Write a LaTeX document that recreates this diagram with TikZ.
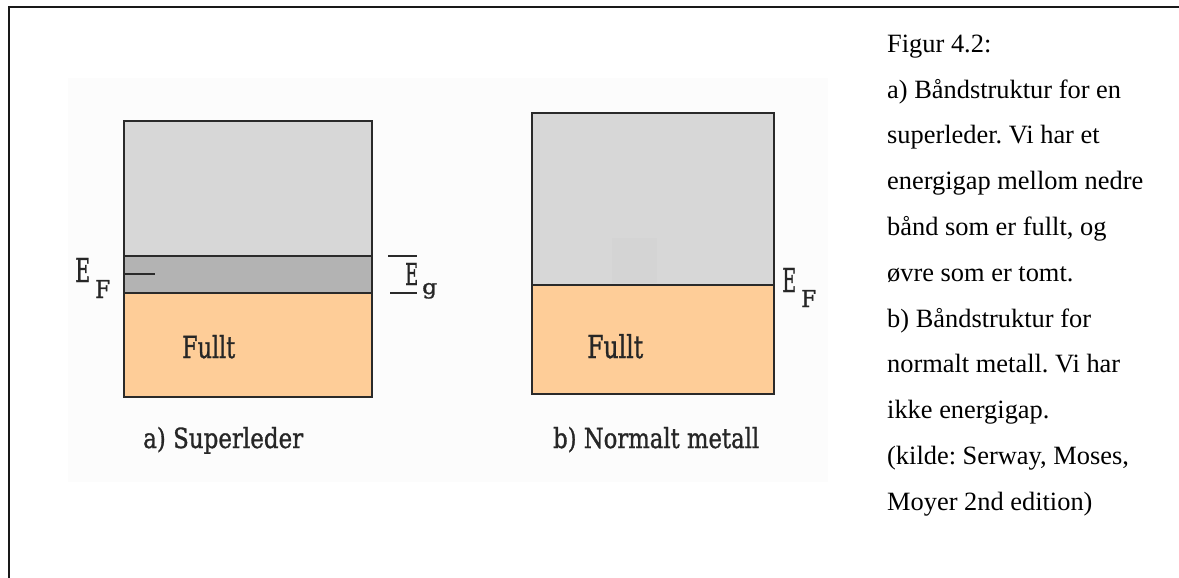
\documentclass[tikz,border=0pt]{standalone}
\usepackage{fontspec}
\setmainfont{Liberation Serif}
\newfontfamily\labfont[FakeBold=1.2]{DejaVu Serif}
\definecolor{topgray}{HTML}{D7D7D7}
\definecolor{gapgray}{HTML}{B3B3B3}
\definecolor{peach}{HTML}{FECD98}
\definecolor{bandline}{HTML}{2A2A2A}
\definecolor{paper}{HTML}{FCFCFC}
\definecolor{smudge}{HTML}{D4D4D4}
\tikzset{
  band/.style={draw=bandline, line width=1.8pt},
  lab/.style={anchor=base west, inner sep=0pt, text=black!85, font=\labfont},
  captxt/.style={anchor=base west, inner sep=0pt, font=\fontsize{26.4}{30}\selectfont},
  gapmark/.style={draw=bandline, line width=1.6pt}
}
\frenchspacing
\begin{document}
\begin{tikzpicture}[x=1pt,y=-1pt]
\useasboundingbox (0,0) rectangle (1179,578);
\fill[white] (0,0) rectangle (1179,578);
\fill[paper] (68,78) rectangle (828,482);
% frame
\draw[line width=2pt, draw=black!90] (9,578) -- (9,7) -- (1179,7);

% ---- a) superleder
\filldraw[band, fill=topgray] (124,121) rectangle (372,256);
\filldraw[band, fill=gapgray] (124,256) rectangle (372,293);
\filldraw[band, fill=peach] (124,293) rectangle (372,397);
\coordinate (efa1) at (124,274);
\coordinate (efa2) at (155,274);
\draw[gapmark] (efa1) -- (efa2);
\node[lab] (efa) at (75,282) {\resizebox{15pt}{24pt}{E}\hspace{5pt}\raisebox{-16pt}{\resizebox{15pt}{18pt}{F}}};
\coordinate (gt1) at (388,256); \coordinate (gt2) at (417,256);
\coordinate (gb1) at (390,293); \coordinate (gb2) at (417,293);
\draw[gapmark] (gt1) -- (gt2);
\draw[gapmark] (gb1) -- (gb2);
\node[lab] (eg) at (405,285) {\resizebox{13pt}{22pt}{E}\hspace{4pt}\raisebox{-9pt}{\resizebox{15pt}{11pt}{g}}};
\node[lab] (fulla) at (182,358) {\resizebox{53pt}{23pt}{Fullt}};
\node[lab] (capa) at (143,448) {\resizebox{160pt}{21pt}{a) Superleder}};

% ---- b) normalt metall
\filldraw[band, fill=topgray] (532,113) rectangle (774,285);
\fill[smudge] (612,238) rectangle (657,283);
\filldraw[band, fill=peach] (532,285) rectangle (774,394);
\draw[band] (532,285) -- (774,285);
\node[lab] (efb) at (782,292) {\resizebox{14pt}{24pt}{E}\hspace{5pt}\raisebox{-15pt}{\resizebox{15pt}{17pt}{F}}};
\node[lab] (fullb) at (587,358) {\resizebox{56pt}{24pt}{Fullt}};
\node[lab] (capb) at (553,448) {\resizebox{206pt}{21pt}{b) Normalt metall}};

% ---- caption text
\node[captxt] (t1)  at (887,52.3)  {Figur 4.2:};
\node[captxt] (t2)  at (887,98.1)  {a) Båndstruktur for en};
\node[captxt] (t3)  at (887,143.9) {superleder. Vi har et};
\node[captxt] (t4)  at (887,189.7) {energigap mellom nedre};
\node[captxt] (t5)  at (887,235.5) {bånd som er fullt, og};
\node[captxt] (t6)  at (887,281.3) {øvre som er tomt.};
\node[captxt] (t7)  at (887,327.1) {b) Båndstruktur for};
\node[captxt] (t8)  at (887,372.9) {normalt metall. Vi har};
\node[captxt] (t9)  at (887,418.7) {ikke energigap.};
\node[captxt] (t10) at (887,464.5) {(kilde: Serway, Moses,};
\node[captxt] (t11) at (887,510.3) {Moyer 2nd edition)};
\end{tikzpicture}
\end{document}
